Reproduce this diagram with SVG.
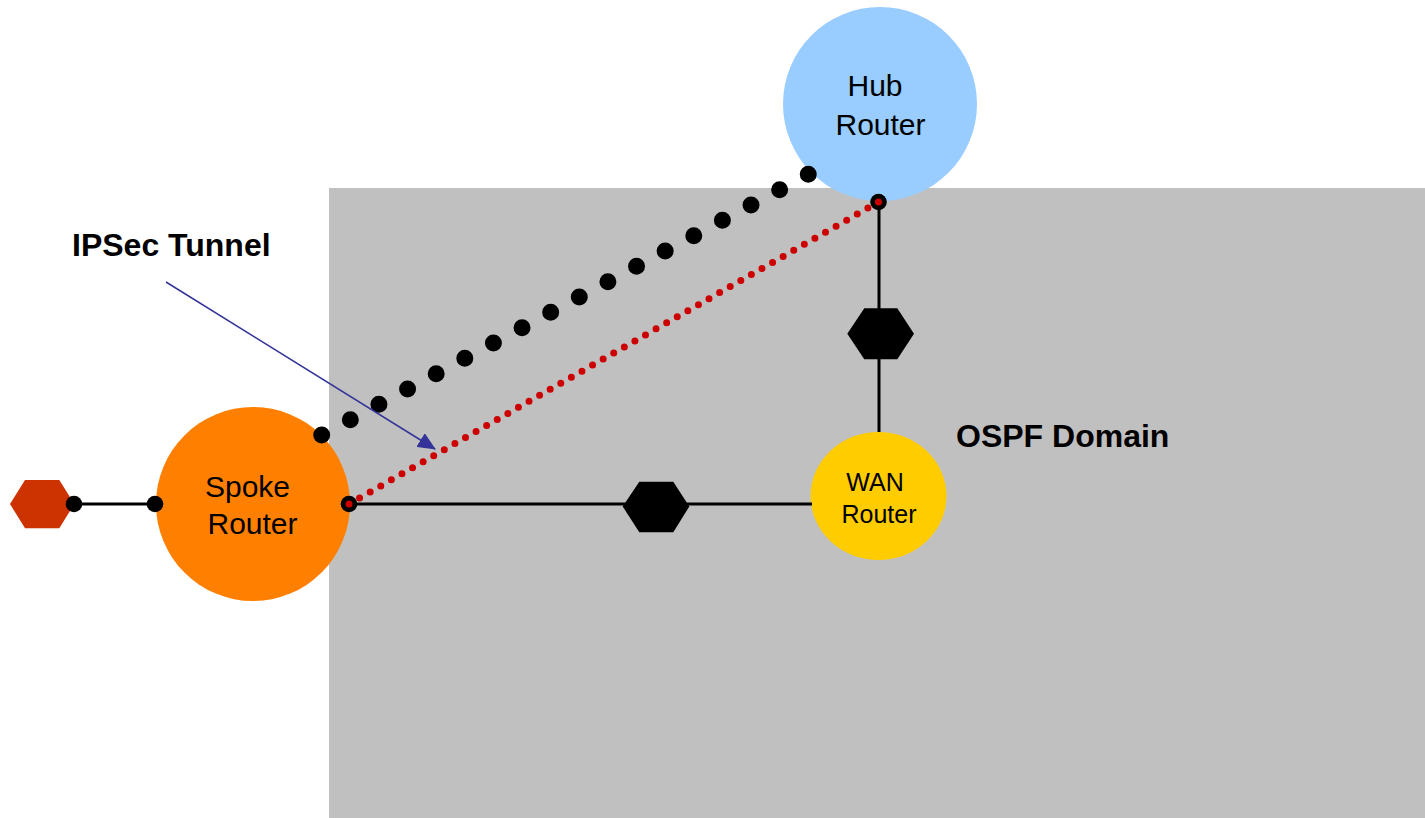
<svg xmlns="http://www.w3.org/2000/svg" width="1425" height="818" viewBox="0 0 1425 818">
  <style>
    .label { font-family: "Liberation Sans", Arial, sans-serif; fill: #000000; text-anchor: middle; }
    .big { font-size: 30px; }
    .small { font-size: 25px; }
    .title { font-family: "Liberation Sans", Arial, sans-serif; font-weight: bold; font-size: 32px; fill: #000000; }
    .link { stroke: #000000; stroke-width: 3; fill: none; }
    .port { fill: #000000; }
    .hex { fill: #000000; }
  </style>
  <defs>
    <marker id="arrowhead" viewBox="0 0 18 16" refX="17" refY="8" markerWidth="18" markerHeight="16" markerUnits="userSpaceOnUse" orient="auto">
      <path d="M0,0 L18,8 L0,16 Z" fill="#333399"/>
    </marker>
  </defs>

  <!-- OSPF area background -->
  <rect id="ospf-domain" x="329" y="188" width="1096" height="630" fill="#C0C0C0"/>

  <!-- Routers -->
  <g id="hub-router">
    <circle cx="880" cy="104" r="97" fill="#99CCFF"/>
    <text class="label big" x="875" y="96">Hub</text>
    <text class="label big" x="880.5" y="135">Router</text>
  </g>
  <g id="spoke-router">
    <circle cx="253" cy="504" r="97" fill="#FF8000"/>
    <text class="label big" x="247.5" y="497">Spoke</text>
    <text class="label big" x="252.5" y="534">Router</text>
  </g>
  <g id="wan-router">
    <ellipse cx="878.5" cy="496" rx="68" ry="64" fill="#FFCC00"/>
    <text class="label small" x="875" y="491">WAN</text>
    <text class="label small" x="879" y="523">Router</text>
  </g>

  <!-- Connectors -->
  <g id="connectors">
    <line class="link" x1="74" y1="504" x2="155" y2="504"/>
    <line class="link" x1="349" y1="504" x2="812" y2="504"/>
    <line class="link" x1="879" y1="202" x2="879" y2="432"/>
    <!-- IPSec tunnel drawn as large black dots -->
    <line x1="321.7" y1="435" x2="808.3" y2="174.3" stroke="#000000" stroke-width="17" stroke-linecap="round" stroke-dasharray="0 32.47"/>
    <!-- callout arrow -->
    <line x1="166" y1="282" x2="435" y2="449" stroke="#333399" stroke-width="1.5" marker-end="url(#arrowhead)"/>
  </g>

  <!-- Network segments -->
  <g id="lan-segment">
    <polygon points="10,504 25,480 59.3,480 74.3,504 59.3,528.3 25,528.3" fill="#CC3300"/>
  </g>
  <g id="wan-segment-spoke">
    <polygon class="hex" points="622.7,506.5 639.3,481.7 673.3,481.7 689.3,506.5 673.3,532.3 639.3,532.3"/>
  </g>
  <g id="wan-segment-hub">
    <polygon class="hex" points="847.3,333.8 864.3,308.3 897.3,308.3 914,333.8 897.3,359.3 864.3,359.3"/>
  </g>

  <!-- Interface ports and the routed path through the tunnel -->
  <g id="ports">
    <circle class="port" cx="74" cy="504" r="8.3"/>
    <circle class="port" cx="155" cy="504" r="8.3"/>
    <circle class="port" cx="349" cy="504" r="8.3"/>
    <circle class="port" cx="878.5" cy="202" r="8.3"/>
    <line x1="349" y1="504" x2="878.5" y2="202" stroke="#CC0000" stroke-width="7" stroke-linecap="round" stroke-dasharray="0 12.19"/>
  </g>

  <!-- Annotations -->
  <g id="annotations">
    <text class="title" x="72" y="256">IPSec Tunnel</text>
    <text class="title" x="956" y="447">OSPF Domain</text>
  </g>
</svg>
